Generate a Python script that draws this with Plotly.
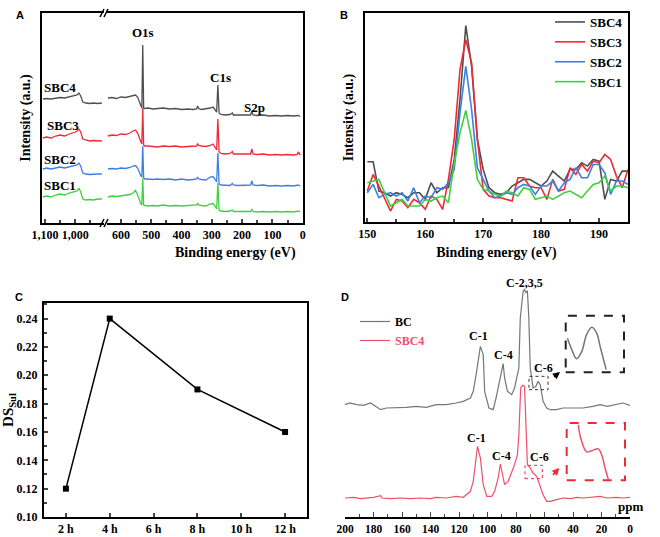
import plotly.graph_objects as go

SERIF = "Liberation Serif"
SANS = "Liberation Sans"
W, H = 660, 537


def px(x):
    return x / W


def py(y):
    return 1 - y / H


# ---------------- Panel A : XPS survey (broken axis) ----------------
a_left_be = [1107, 1095, 1080, 1065, 1050, 1035, 1020, 1008, 1000, 994, 988, 982, 975, 965, 952, 940, 926, 912]
a_left_sbc4 = [124, 124.5, 124, 125, 125.5, 125, 126, 126.5, 127, 128, 130, 127, 121, 120, 119.5, 120, 119.5, 120]
a_left_sbc3 = [85, 86, 85, 87, 88, 87, 89, 90, 91, 92, 94, 91, 84, 83, 82, 82.5, 82, 82]
a_left_sbc2 = [54, 55, 54, 55, 56, 55, 56, 57, 58, 58, 60, 57, 50, 49, 48.5, 49, 49, 49]
a_left_sbc1 = [26, 27, 26, 28, 29, 28, 30, 31, 31, 32, 35, 31, 24, 23, 23.5, 23, 24, 24]

a_right_be = [643, 630, 615, 600, 585, 570, 560, 552, 545,
              539, 534, 531, 528, 525, 521,
              510, 495, 480, 460, 440, 420, 400, 380, 362,
              350, 347, 343, 335, 320, 305,
              296, 290, 284, 280, 276, 270, 255, 240,
              232, 229, 215, 190, 172, 168, 164,
              150, 130, 110, 90, 70, 50, 30, 18, 15, 8]
a_right_sbc4 = [125, 125.5, 124.5, 126, 125.5, 126.5, 127, 128, 126,
                121, 117, 115, 178, 115, 114.5,
                115, 114, 114.5, 115, 114, 114.5, 113.5, 114, 113.5,
                114, 117, 114.5, 113.5, 114, 115,
                116, 113, 111, 138, 110, 108.5, 108, 108.5,
                110, 108, 108, 107.5, 108, 112, 108,
                107.5, 108, 107, 107.5, 107, 107.5, 107, 107, 107.5, 106.5]
a_right_sbc3 = [87, 88, 87.5, 89, 88.5, 90, 92, 93, 90,
                84, 81, 79, 115, 78, 77,
                77, 76.5, 76, 77, 76.5, 77, 76, 76.5, 77,
                77, 79.5, 77.5, 77, 76.5, 77.5,
                79, 76, 73, 104, 71, 69.5, 69, 69.5,
                71.5, 69, 69, 68.5, 69, 74, 69,
                68.5, 69, 68, 68.5, 68, 68.5, 68, 68.5, 71, 68]
a_right_sbc2 = [54, 54.5, 54, 55, 54.5, 55.5, 57, 57.5, 55,
                50, 47, 46, 77, 45, 44,
                44, 43.5, 44, 43.5, 44, 43, 44, 43, 43.5,
                44, 46, 44, 43.5, 43, 46,
                46.5, 44, 41, 70, 39, 38, 38, 37.5,
                39.5, 38, 37.5, 37.5, 38, 42, 38,
                37.5, 38, 37, 37.5, 37, 37.5, 37, 37.5, 38, 37]
a_right_sbc1 = [26, 27, 26.5, 27, 27.5, 28.5, 30, 32.5, 28,
                22, 19, 18, 45, 18, 17.5,
                17, 17.5, 17, 18, 17, 17.5, 17, 17.5, 18,
                18, 20, 18, 17.5, 17, 19,
                19.5, 17, 14, 40, 13, 12, 11.5, 12,
                13, 11.5, 11.5, 11.5, 11.5, 13.5, 11.5,
                11, 11.5, 11, 11.5, 11, 11.5, 11, 11.5, 12, 11]

a_left_ticks = [1100, 1000]
a_left_ticktext = ["1,100", "1,000"]
a_right_ticks = [600, 500, 400, 300, 200, 100, 0]

# ---------------- Panel B : S2p high resolution ----------------
b_be = list(range(150, 196))
b_sbc4 = [213, 213, 125, 120, 110, 120, 115, 105, 120, 120, 100, 150, 120, 135, 135, 220, 400, 622, 500, 280,
          190, 135, 120, 115, 120, 140, 150, 160, 160, 150, 140, 155, 185, 170, 155, 190, 190, 210, 200, 220,
          215, 100, 160, 155, 185, 185]
b_sbc3 = [125, 175, 140, 100, 65, 100, 95, 75, 100, 90, 70, 110, 100, 70, 160, 280, 490, 580, 510, 280,
          130, 110, 105, 105, 100, 95, 165, 165, 140, 135, 135, 100, 160, 125, 130, 195, 175, 205, 185, 215,
          210, 235, 220, 170, 135, 190]
b_sbc2 = [120, 145, 105, 115, 120, 110, 120, 95, 135, 90, 110, 105, 135, 130, 150, 190, 360, 500, 370, 195,
          160, 125, 105, 110, 120, 115, 135, 145, 140, 115, 140, 140, 155, 125, 150, 160, 195, 165, 165, 205,
          205, 180, 115, 155, 155, 145]
b_sbc1 = [150, 155, 160, 120, 80, 90, 100, 80, 80, 80, 100, 95, 105, 110, 90, 210, 300, 367, 280, 160,
          130, 125, 115, 110, 125, 120, 110, 135, 130, 100, 105, 110, 100, 110, 120, 125, 115, 105, 125, 145,
          150, 170, 125, 140, 140, 135]

# ---------------- Panel C : DS_Sul vs time ----------------
c_time = [2, 4, 8, 12]
c_ds = [0.12, 0.24, 0.19, 0.16]
c_ticks = [2, 4, 6, 8, 10, 12]
c_ticktext = ["2 h", "4 h", "6 h", "8 h", "10 h", "12 h"]

# ---------------- Panel D : 13C NMR ----------------
d_bc_ppm = [200, 196.5, 192, 187, 182, 180, 175, 171, 164, 157, 150, 143, 136, 129, 122, 117, 112, 110, 108,
            105, 103, 102, 99, 96, 94, 91, 89, 88, 86, 83, 81, 78, 77, 75, 74, 73, 72, 71, 70, 68, 66, 64.5,
            63, 61, 58.5, 56, 51.5, 47, 40, 33, 26, 21, 16, 9.4, 5, 0]
d_bc_int = [290, 295, 290, 288, 295, 290, 275, 280, 280, 282, 285, 282, 290, 290, 295, 300, 310, 330, 380,
            465, 440, 330, 280, 275, 310, 370, 413, 370, 330, 320, 340, 400, 550, 630, 635, 625, 632, 550, 400,
            340, 345, 360, 350, 300, 280, 275, 275, 280, 280, 280, 285, 290, 285, 290, 295, 288]
d_sbc4_ppm = [200, 194, 189, 185, 180, 175, 174, 168, 161, 154, 147, 140, 136, 129, 122, 117, 115, 112, 110,
              108, 107, 105, 103, 100.5, 97, 95, 92.5, 91, 89.5, 88, 85.5, 83, 81, 79, 78, 76.7, 75.3, 74, 73,
              72, 70, 68, 65.5, 63, 61, 58.5, 56, 51.5, 47, 42, 37, 33, 26, 21, 16, 9.4, 5, 0]
d_sbc4_int = [10, 12, 8, 10, 12, 17, 10, 8, 10, 8, 10, 8, 12, 10, 15, 12, 20, 30, 60,
              120, 165, 130, 50, 15, 15, 30, 70, 112, 80, 50, 60, 85, 110, 140, 200, 340, 348, 345, 220,
              110, 100, 85, 75, 45, 20, 0, 0, 5, 10, 8, 12, 10, 12, 15, 10, 12, 10, 12]
# magnified C-6 regions (insets)
d_inset_bc_ppm = [70.5, 69.5, 68.4, 67.2, 66.1, 64.9, 63.8, 62.9, 61.6]
d_inset_bc_int = [359, 351, 344.6, 349.8, 361.6, 366.8, 362.8, 352.2, 336.9]
d_inset_sbc4_ppm = [71.26, 70.77, 69.52, 68.47, 67.08, 66.38, 65.68, 64.98]
d_inset_sbc4_int = [106.8, 97.5, 87.8, 88.7, 89.9, 85.9, 76.6, 68.5]

COL4, COL3, COL2, COL1 = "#4f4f4f", "#ee2a36", "#3b7fe6", "#3fd03f"
BC_COL, SBC4_COL = "#767676", "#ef4f6b"

fig = go.Figure()

# Panel A traces
for yl, yr, col in [(a_left_sbc4, a_right_sbc4, COL4), (a_left_sbc3, a_right_sbc3, COL3),
                    (a_left_sbc2, a_right_sbc2, COL2), (a_left_sbc1, a_right_sbc1, COL1)]:
    fig.add_trace(go.Scatter(x=a_left_be, y=yl, xaxis="x", yaxis="y", mode="lines",
                             line=dict(color=col, width=1.3), showlegend=False, hoverinfo="skip"))
    fig.add_trace(go.Scatter(x=a_right_be, y=yr, xaxis="x2", yaxis="y2", mode="lines",
                             line=dict(color=col, width=1.3), showlegend=False, hoverinfo="skip"))

# Panel B traces
for name, yv, col in [("SBC4", b_sbc4, COL4), ("SBC3", b_sbc3, COL3),
                      ("SBC2", b_sbc2, COL2), ("SBC1", b_sbc1, COL1)]:
    fig.add_trace(go.Scatter(x=b_be, y=yv, xaxis="x3", yaxis="y3", mode="lines", name=name,
                             line=dict(color=col, width=1.6), legend="legend"))

# Panel C
fig.add_trace(go.Scatter(x=c_time, y=c_ds, xaxis="x4", yaxis="y4", mode="lines+markers",
                         line=dict(color="black", width=1.5),
                         marker=dict(symbol="square", size=6, color="black"), showlegend=False))

# Panel D
fig.add_trace(go.Scatter(x=d_bc_ppm, y=d_bc_int, xaxis="x5", yaxis="y5", mode="lines", name="BC",
                         line=dict(color=BC_COL, width=1.2), legend="legend2"))
fig.add_trace(go.Scatter(x=d_sbc4_ppm, y=d_sbc4_int, xaxis="x5", yaxis="y5", mode="lines",
                         name="<span style='color:%s'>SBC4</span>" % SBC4_COL,
                         line=dict(color=SBC4_COL, width=1.2), legend="legend2"))
fig.add_trace(go.Scatter(x=d_inset_bc_ppm, y=d_inset_bc_int, xaxis="x6", yaxis="y6", mode="lines",
                         line=dict(color=BC_COL, width=1.5, shape="spline"), showlegend=False))
fig.add_trace(go.Scatter(x=d_inset_sbc4_ppm, y=d_inset_sbc4_int, xaxis="x7", yaxis="y7", mode="lines",
                         line=dict(color=SBC4_COL, width=1.5, shape="spline"), showlegend=False))

tickfont = dict(family=SERIF, size=12, color="black", weight="bold")
titlefont = dict(family=SERIF, size=14, color="black", weight="bold")
frame = dict(showline=True, linecolor="black", linewidth=2, showgrid=False, zeroline=False,
             automargin=False)

yA_dom = [py(223), py(13)]
fig.update_layout(
    width=W, height=H, margin=dict(l=0, r=0, t=0, b=0, autoexpand=False),
    paper_bgcolor="white", plot_bgcolor="white",
    font=dict(family=SERIF, color="black"),
    xaxis=dict(domain=[px(42), px(104)], range=[1110, 905], anchor="y", mirror=True,
               tickvals=a_left_ticks, ticktext=a_left_ticktext, ticks="inside", ticklen=4, tickwidth=1.5,
               tickfont=tickfont, ticklabelstandoff=0,
               minor=dict(ticks="inside", ticklen=3, tickvals=[1050, 950]), **frame),
    yaxis=dict(domain=yA_dom, range=[0, 210], anchor="x", showticklabels=False, ticks="",
               title=dict(text="Intensity (a.u.)", font=titlefont, standoff=6), **frame),
    xaxis2=dict(domain=[px(107), px(303)], range=[646, -1], anchor="y2", mirror=True,
                tickvals=a_right_ticks, ticks="inside", ticklen=4, tickwidth=1.5, tickfont=tickfont,
                ticklabelstandoff=0, minor=dict(ticks="inside", ticklen=3, dtick=50), **frame),
    yaxis2=dict(domain=yA_dom, range=[0, 210], anchor="x2", side="right", showticklabels=False,
                ticks="", **frame),
    xaxis3=dict(domain=[px(365), px(628)], range=[149.6, 195], anchor="y3", mirror=True,
                tick0=150, dtick=10, ticks="inside", ticklen=4, tickwidth=1.5, tickfont=tickfont,
                ticklabelstandoff=0, minor=dict(ticks="inside", ticklen=3, dtick=5),
                title=dict(text="Binding energy (eV)", font=titlefont, standoff=7), **frame),
    yaxis3=dict(domain=[py(222), py(13)], range=[32, 660], anchor="x3", mirror=True,
                showticklabels=False, ticks="",
                title=dict(text="Intensity (a.u.)", font=titlefont, standoff=6), **frame),
    xaxis4=dict(domain=[px(44), px(307)], range=[1, 13], anchor="y4", mirror=True,
                tickvals=c_ticks, ticktext=c_ticktext, ticks="inside", ticklen=4, tickwidth=1.5,
                tickfont=tickfont, ticklabelstandoff=0, **frame),
    yaxis4=dict(domain=[py(517), py(303)], range=[0.10, 0.251], anchor="x4", mirror=True,
                tick0=0.10, dtick=0.02, tickformat=".2f", ticks="inside", ticklen=4, tickwidth=1.5,
                tickfont=tickfont, ticklabelstandoff=2, minor=dict(ticks="inside", ticklen=2.5, dtick=0.01),
                title=dict(text="DS<sub>Sul</sub>", font=dict(family=SERIF, size=15, color="black",
                                                              weight="bold"), standoff=2), **frame),
    xaxis5=dict(domain=[px(345), px(630)], range=[200, 0], anchor="y5", showline=True, linecolor="black",
                linewidth=1.5, showgrid=False, zeroline=False, tick0=0, dtick=20, ticks="inside",
                ticklen=5, tickwidth=1.2, tickfont=dict(family=SERIF, size=11.5, color="black", weight="bold"),
                ticklabelstandoff=0, automargin=False,
                minor=dict(ticks="inside", ticklen=3, dtick=10)),
    yaxis5=dict(domain=[py(517), py(273)], range=[-47, 685], anchor="x5", visible=False),
    xaxis6=dict(domain=[px(565.7), px(624)], range=[70.9, 57.5], anchor="y6", visible=False),
    yaxis6=dict(domain=[py(372.3), py(315.7)], range=[335, 375], anchor="x6", visible=False),
    xaxis7=dict(domain=[px(566.7), px(625)], range=[73.7, 61.5], anchor="y7", visible=False),
    yaxis7=dict(domain=[py(480.3), py(423)], range=[68, 108], anchor="x7", visible=False),
    legend=dict(x=px(550), y=py(7), xanchor="left", yanchor="top", bgcolor="rgba(0,0,0,0)",
                font=dict(family=SERIF, size=13, color="black", weight="bold"), tracegroupgap=0),
    legend2=dict(x=px(355), y=py(307), xanchor="left", yanchor="top", bgcolor="rgba(0,0,0,0)",
                 font=dict(family=SERIF, size=12, color="black", weight="bold"), tracegroupgap=0),
    showlegend=True,
)

ann = []
lab = dict(family=SERIF, size=13, color="black", weight="bold")
# Panel A labels
for t, x, y in [("SBC4", 1051, 136), ("SBC3", 1041, 98), ("SBC2", 1051, 64), ("SBC1", 1051, 38)]:
    ann.append(dict(text=t, x=x, y=y, xref="x", yref="y", showarrow=False, font=lab))
for t, x, y in [("O1s", 527, 191), ("C1s", 273, 146), ("S2p", 158, 116)]:
    ann.append(dict(text=t, x=x, y=y, xref="x2", yref="y2", showarrow=False, font=lab))
ann.append(dict(text="Binding energy (eV)", x=px(173), y=py(253), xref="paper", yref="paper",
                showarrow=False, font=titlefont))
# panel letters
for t, x, y in [("A", 14, 7), ("B", 344, 7), ("C", 13, 297), ("D", 345, 297)]:
    ann.append(dict(text=t, x=px(x), y=py(y), xref="paper", yref="paper", showarrow=False,
                    font=dict(family=SANS, size=11, color="black", weight="bold")))
# Panel D labels
dl = dict(family=SERIF, size=12, color="black", weight="bold")
for t, x, y in [("C-1", 106, 496), ("C-4", 89.1, 439), ("C-2,3,5", 73.7, 655), ("C-6", 61, 400),
                ("C-1", 107.4, 190), ("C-4", 90.5, 136), ("C-6", 63.2, 133)]:
    ann.append(dict(text=t, x=x, y=y, xref="x5", yref="y5", showarrow=False, font=dl))
ann.append(dict(text="ppm", x=px(645), y=py(516), xref="paper", yref="paper", showarrow=False,
                font=dict(family=SERIF, size=13, color="black", weight="bold")))
# arrows
ann.append(dict(text="", x=49.1, y=388, ax=54.3, ay=370, xref="x5", yref="y5", axref="x5", ayref="y5",
                showarrow=True, arrowhead=2, arrowsize=0.8, arrowwidth=1.8, arrowcolor="black"))
ann.append(dict(text="", x=49.6, y=100, ax=55, ay=75, xref="x5", yref="y5", axref="x5", ayref="y5",
                showarrow=True, arrowhead=2, arrowsize=0.8, arrowwidth=1.8, arrowcolor="#ee2a36"))
fig.update_layout(annotations=ann)

shapes = []
# break marks on panel A frame
for yb in (13, 223):
    for x0 in (100, 104):
        shapes.append(dict(type="line", xref="paper", yref="paper", x0=px(x0), x1=px(x0 + 4),
                           y0=py(yb + 4), y1=py(yb - 4), line=dict(color="black", width=1.5)))
# inset marker boxes
shapes.append(dict(type="rect", xref="x5", yref="y5", x0=70.9, x1=57.5, y0=335, y1=375,
                   line=dict(color="#333333", width=1, dash="dot")))
shapes.append(dict(type="rect", xref="x6 domain", yref="y6 domain", x0=0, x1=1, y0=0, y1=1,
                   line=dict(color="#222222", width=2, dash="dash")))
shapes.append(dict(type="rect", xref="x5", yref="y5", x0=73.7, x1=61.5, y0=68, y1=108,
                   line=dict(color="#ee2a36", width=1, dash="dot")))
shapes.append(dict(type="rect", xref="x7 domain", yref="y7 domain", x0=0, x1=1, y0=0, y1=1,
                   line=dict(color="#ee2a36", width=2, dash="dash")))
fig.update_layout(shapes=shapes)

fig.write_html("out.html")
